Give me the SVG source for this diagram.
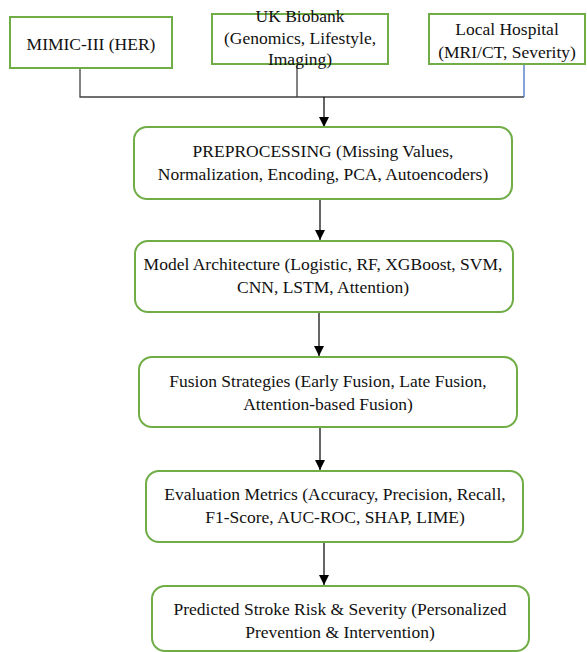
<svg xmlns="http://www.w3.org/2000/svg" width="587" height="652" viewBox="0 0 587 652">
<defs>
<style>
.box{fill:#fff;stroke:#70AD47;stroke-width:2}
.t{font-family:'Liberation Serif','Times New Roman','DejaVu Serif',serif;font-size:17.5px;fill:#111;text-anchor:middle}
.ln{stroke:#404040;stroke-width:1.3;fill:none}
.ar{stroke:#000;stroke-width:1.2;fill:none;marker-end:url(#ah)}
</style>
<marker id="ah" viewBox="0 0 10 10" refX="10" refY="5" markerWidth="10" markerHeight="10" markerUnits="userSpaceOnUse" orient="auto">
<path d="M0,0 L10,5 L0,10 z" fill="#000"/>
</marker>
</defs>
<rect width="587" height="652" fill="#fff"/>
<g id="connectors">
<path class="ln" d="M80,68 V97 H524"/>
<path class="ln" d="M297,64 V97"/>
<path d="M524,64 V97" stroke="#4472C4" stroke-width="1.3" fill="none"/>
<path class="ar" d="M324,97 V127"/>
<path class="ar" d="M320,199 V240"/>
<path class="ar" d="M319,312 V356"/>
<path class="ar" d="M320,427 V470"/>
<path class="ar" d="M324,542 V585"/>
</g>
<g id="mimic">
<rect class="box" x="10" y="17" width="162" height="51"/>
<text class="t" x="91" y="50" font-family="Liberation Serif">MIMIC-III (HER)</text>
</g>
<g id="ukbiobank">
<rect class="box" x="212" y="14" width="176" height="50"/>
<text class="t" x="300" y="22">UK Biobank</text>
<text class="t" x="300" y="44">(Genomics, Lifestyle,</text>
<text class="t" x="300" y="65">Imaging)</text>
</g>
<g id="hospital">
<rect class="box" x="429" y="14" width="156" height="50"/>
<text class="t" x="507" y="35">Local Hospital</text>
<text class="t" x="507" y="58">(MRI/CT, Severity)</text>
</g>
<g id="preprocessing">
<rect class="box" x="134" y="127" width="378" height="72" rx="13"/>
<text class="t" x="323" y="157">PREPROCESSING (Missing Values,</text>
<text class="t" x="323" y="180">Normalization, Encoding, PCA, Autoencoders)</text>
</g>
<g id="model">
<rect class="box" x="135" y="241" width="378" height="71" rx="13"/>
<text class="t" x="323" y="270">Model Architecture (Logistic, RF, XGBoost, SVM,</text>
<text class="t" x="323" y="293">CNN, LSTM, Attention)</text>
</g>
<g id="fusion">
<rect class="box" x="139" y="357" width="378" height="70" rx="13"/>
<text class="t" x="328" y="387">Fusion Strategies (Early Fusion, Late Fusion,</text>
<text class="t" x="328" y="410">Attention-based Fusion)</text>
</g>
<g id="evaluation">
<rect class="box" x="146" y="471" width="377" height="71" rx="13"/>
<text class="t" x="335" y="500">Evaluation Metrics (Accuracy, Precision, Recall,</text>
<text class="t" x="335" y="523">F1-Score, AUC-ROC, SHAP, LIME)</text>
</g>
<g id="output">
<rect class="box" x="152" y="586" width="377" height="65" rx="13"/>
<text class="t" x="340" y="615">Predicted Stroke Risk &amp; Severity (Personalized</text>
<text class="t" x="340" y="638">Prevention &amp; Intervention)</text>
</g>
</svg>
